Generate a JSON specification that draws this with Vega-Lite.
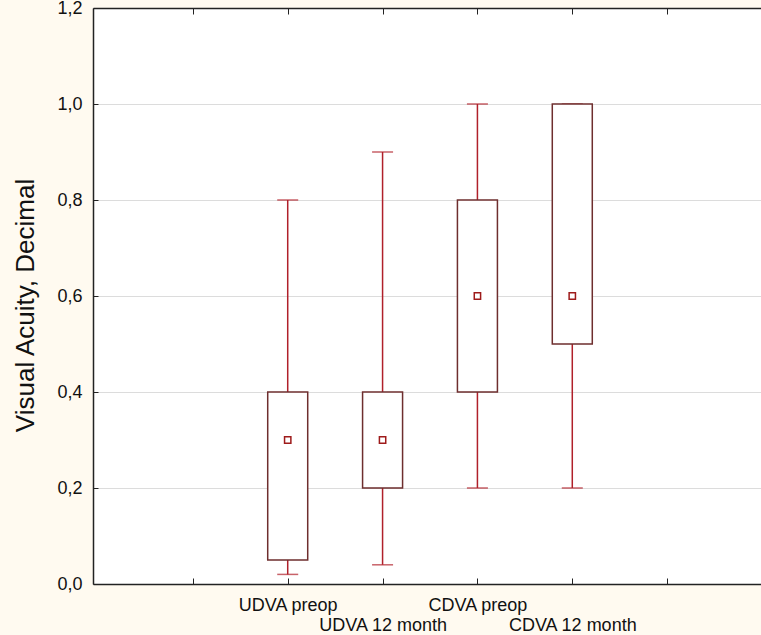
{
  "$schema": "https://vega.github.io/schema/vega-lite/v6.json",
  "autosize": "none",
  "padding": {"left": 93, "top": 8, "right": 0, "bottom": 51},
  "width": 674,
  "height": 576,
  "background": "#FFFAF0",
  "view": {"fill": "white", "stroke": null},
  "config": {"font": "Liberation Sans"},
  "resolve": {"axis": {"x": "independent"}},
  "data": {
    "values": [
      {"group": "UDVA preop", "pos": 2, "min": 0.02, "q1": 0.05, "median": 0.3, "q3": 0.4, "max": 0.8},
      {"group": "UDVA 12 month", "pos": 3, "min": 0.04, "q1": 0.2, "median": 0.3, "q3": 0.4, "max": 0.9},
      {"group": "CDVA preop", "pos": 4, "min": 0.2, "q1": 0.4, "median": 0.6, "q3": 0.8, "max": 1.0},
      {"group": "CDVA 12 month", "pos": 5, "min": 0.2, "q1": 0.5, "median": 0.6, "q3": 1.0, "max": 1.0}
    ]
  },
  "layer": [
    {
      "mark": {"type": "rule", "color": "#B0202A", "strokeWidth": 1.5},
      "encoding": {
        "x": {
          "field": "pos", "type": "quantitative",
          "scale": {"domain": [0, 7], "nice": false, "zero": false},
          "axis": {
            "orient": "bottom",
            "title": null,
            "values": [1, 2, 3, 4, 5, 6],
            "grid": false,
            "domainColor": "#222222",
            "domainWidth": 1.5,
            "tickColor": "#222222",
            "tickSize": -6,
            "labelPadding": 18,
            "labelFontSize": 18,
            "labelLineHeight": 20,
            "labelColor": "#111111",
            "labelFont": "Liberation Sans",
            "labelOverlap": false,
            "labelExpr": "datum.value == 2 ? 'UDVA preop' : datum.value == 3 ? ['', 'UDVA 12 month'] : datum.value == 4 ? 'CDVA preop' : datum.value == 5 ? ['', 'CDVA 12 month'] : ''"
          }
        },
        "y": {
          "field": "min", "type": "quantitative",
          "scale": {"domain": [0, 1.2], "nice": false},
          "axis": {
            "title": "Visual Acuity, Decimal",
            "titleFontSize": 26,
            "titleFontWeight": "normal",
            "titleColor": "#111111",
            "titleX": -55,
            "titleY": 297,
            "values": [0, 0.2, 0.4, 0.6, 0.8, 1.0, 1.2],
            "labelExpr": "replace(format(datum.value, '.1f'), '.', ',')",
            "labelFontSize": 18,
            "labelColor": "#111111",
            "labelPadding": 16,
            "labelOverlap": false,
            "grid": true,
            "gridColor": "#DCDCDC",
            "domainColor": "#222222",
            "domainWidth": 1.5,
            "tickColor": "#222222",
            "tickSize": -5
          }
        },
        "y2": {"field": "max"}
      }
    },
    {
      "mark": {"type": "tick", "orient": "horizontal", "color": "#B0202A", "size": 21, "thickness": 1.5},
      "encoding": {
        "x": {
          "field": "pos", "type": "quantitative",
          "axis": {
            "orient": "top",
            "title": null,
            "labels": false,
            "values": [1, 2, 3, 4, 5, 6],
            "grid": false,
            "domainColor": "#222222",
            "domainWidth": 1.5,
            "tickColor": "#222222",
            "tickSize": -6
          }
        },
        "y": {"field": "min", "type": "quantitative"}
      }
    },
    {
      "mark": {"type": "tick", "orient": "horizontal", "color": "#B0202A", "size": 21, "thickness": 1.5},
      "encoding": {
        "x": {"field": "pos", "type": "quantitative", "axis": null},
        "y": {"field": "max", "type": "quantitative"}
      }
    },
    {
      "mark": {"type": "bar", "width": 40, "fill": "white", "stroke": "#6E2E2E", "strokeWidth": 1.5},
      "encoding": {
        "x": {"field": "pos", "type": "quantitative", "axis": null},
        "y": {"field": "q1", "type": "quantitative"},
        "y2": {"field": "q3"}
      }
    },
    {
      "mark": {"type": "point", "shape": "square", "size": 40, "fill": "white", "stroke": "#9E1B1B", "strokeWidth": 1.5, "opacity": 1},
      "encoding": {
        "x": {"field": "pos", "type": "quantitative", "axis": null},
        "y": {"field": "median", "type": "quantitative"}
      }
    }
  ]
}
